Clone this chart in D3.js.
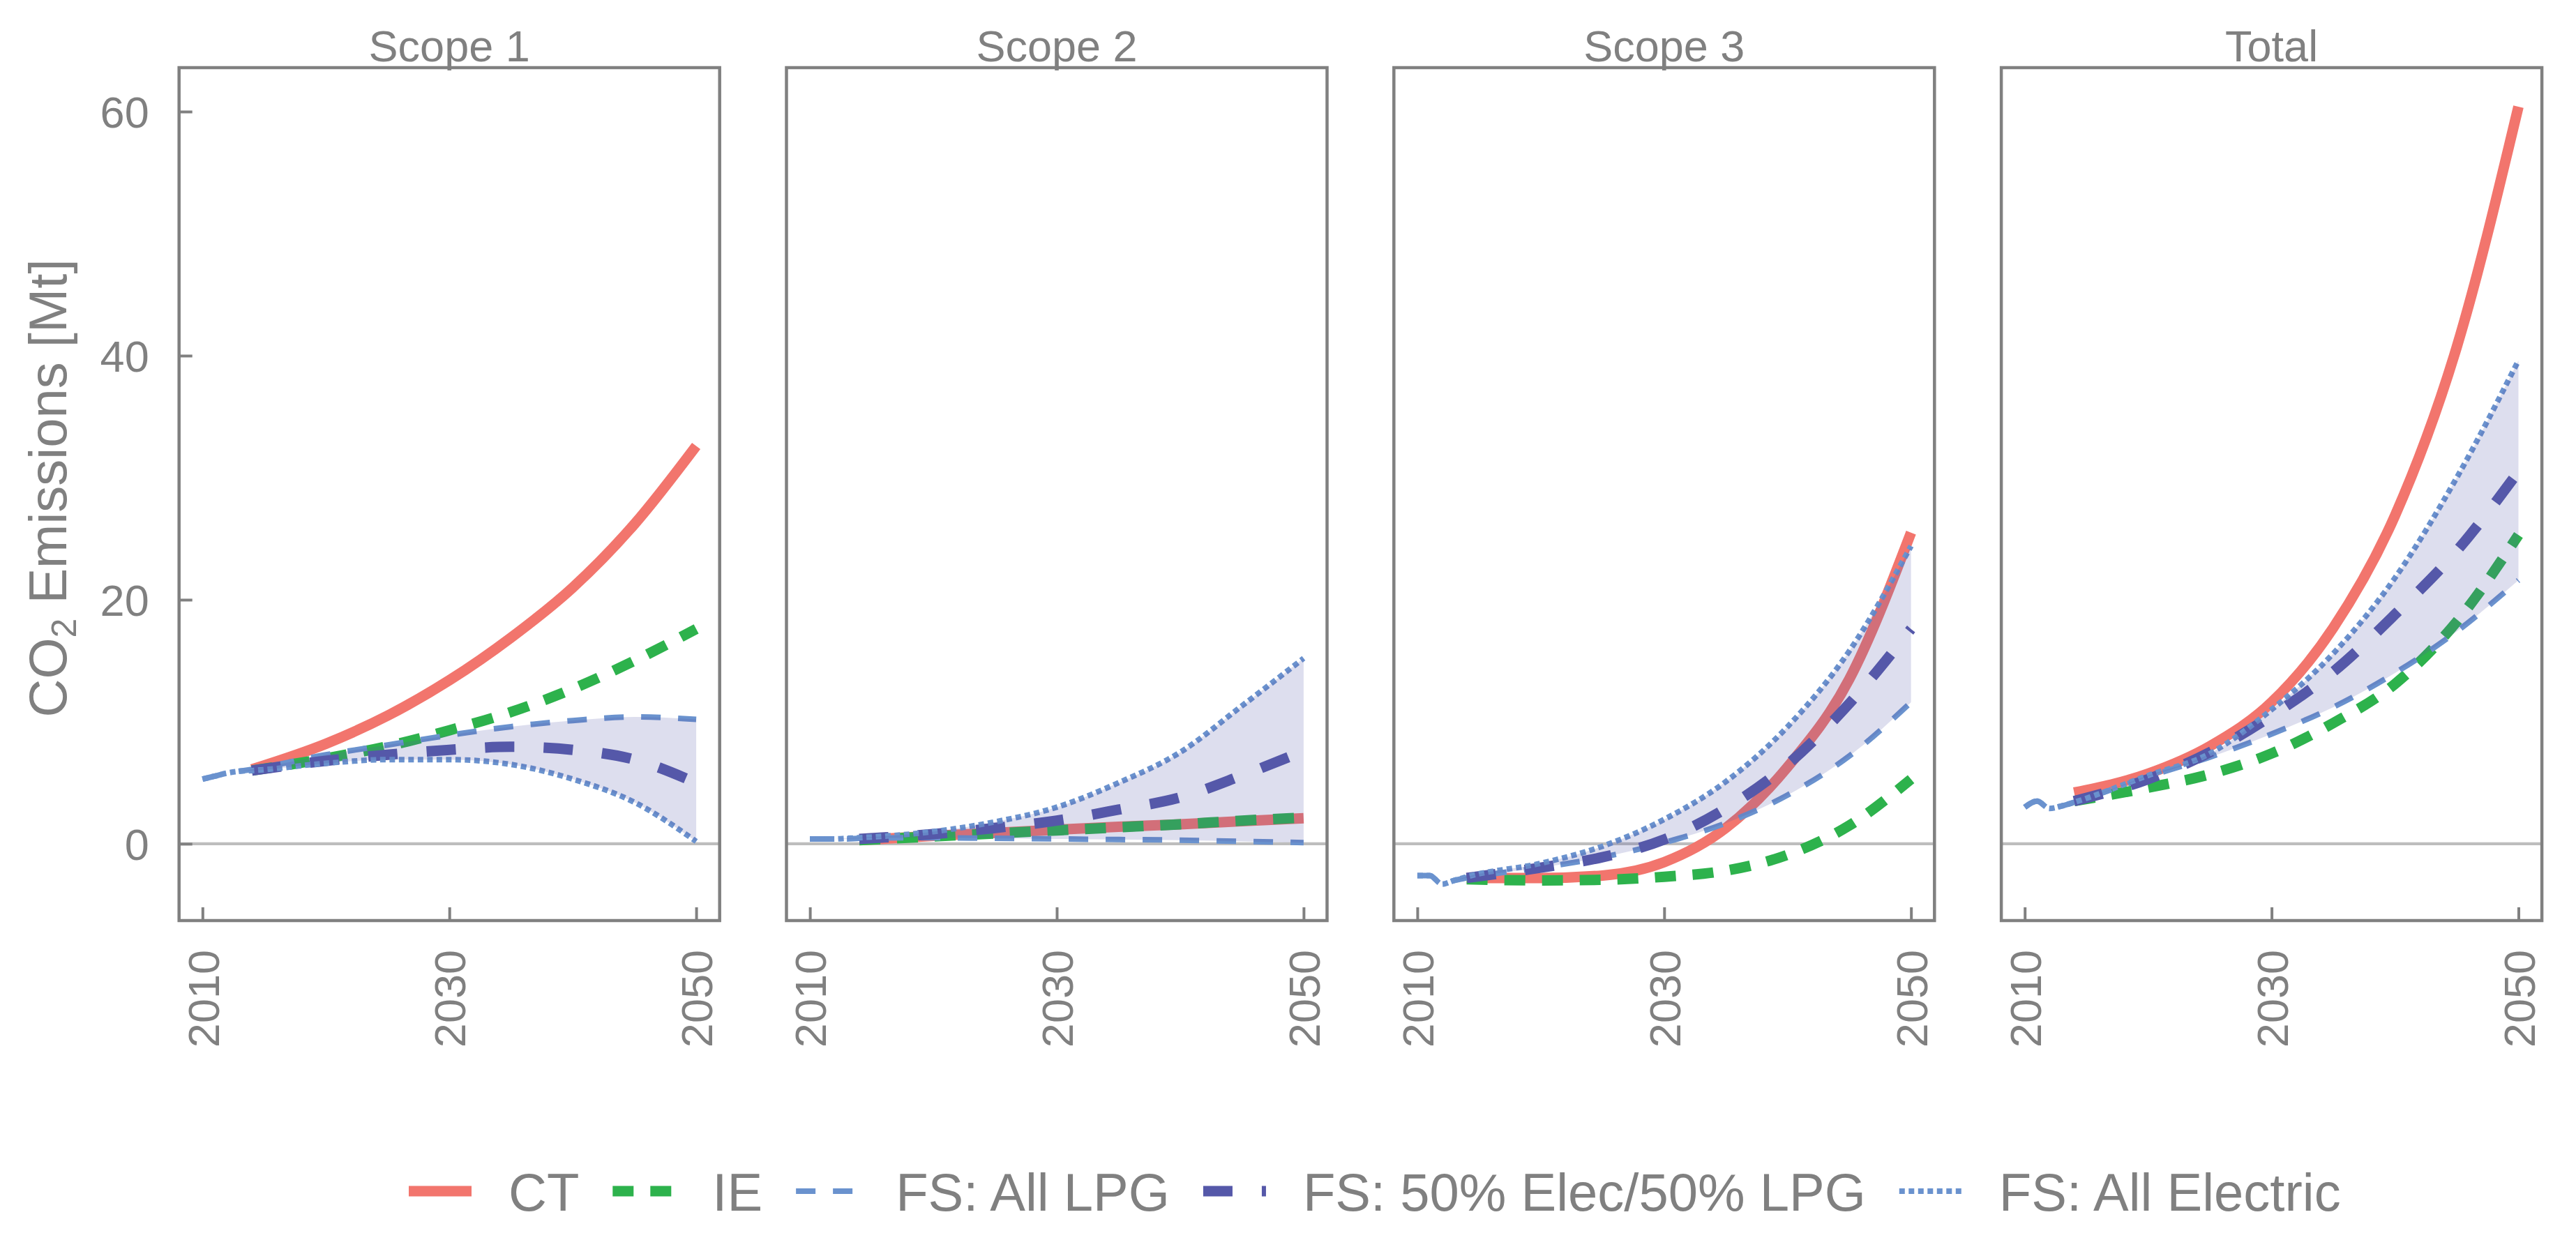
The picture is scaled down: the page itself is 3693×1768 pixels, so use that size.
<!DOCTYPE html>
<html>
<head>
<meta charset="utf-8">
<script src="https://cdn.jsdelivr.net/npm/d3@7"></script>
<style>
  html, body { margin: 0; padding: 0; background: #ffffff; }
  svg { display: block; }
  text { font-family: "Liberation Sans", Arial, Helvetica, sans-serif; fill: #808080; }
</style>
</head>
<body>
<svg id="chart" width="3693" height="1768"></svg>
<script>
// ---------------- DATA ----------------
const panels = ["Scope 1", "Scope 2", "Scope 3", "Total"];
const xTicks = [2010, 2030, 2050];
const yTicks = [0, 20, 40, 60];
const legendLabels = ["CT", "IE", "FS: All LPG", "FS: 50% Elec/50% LPG", "FS: All Electric"];

// years for the scenario lines (CT, IE, 50/50)
const scenYears = [2014, 2020, 2025, 2030, 2035, 2040, 2045, 2050];
// years for the FS: All LPG / All Electric lines (include history)
const fsYears = [2010, 2011, 2012, 2013, 2014, 2020, 2025, 2030, 2035, 2040, 2045, 2050];

// CT  [Scope1, Scope2, Scope3, Total]
const ctValues = [
  [6.1, 8.2, 10.5, 13.4, 16.9, 21.0, 26.2, 32.6],
  [0.3, 0.65, 0.9, 1.15, 1.4, 1.6, 1.85, 2.1],
  [-2.8, -2.8, -2.6, -1.5, 1.3, 6.3, 13.5, 25.5],
  [4.2, 5.75, 8.0, 11.6, 17.7, 26.9, 40.7, 60.4]
];
// IE
const ieValues = [
  [6.0, 7.0, 8.0, 9.3, 10.8, 12.7, 15.0, 17.6],
  [0.3, 0.6, 0.85, 1.1, 1.35, 1.6, 1.9, 2.15],
  [-2.9, -3.0, -2.95, -2.7, -2.2, -0.9, 1.5, 5.3],
  [3.5, 4.6, 5.7, 7.4, 9.9, 13.1, 18.2, 25.3]
];
// FS: 50% Elec / 50% LPG
const midValues = [
  [6.0, 6.8, 7.3, 7.7, 7.95, 7.7, 6.9, 5.0],
  [0.4, 0.8, 1.3, 1.9, 2.8, 3.8, 5.6, 7.6],
  [-2.8, -1.95, -1.1, 0.35, 2.9, 6.5, 11.5, 17.6],
  [3.5, 5.3, 7.5, 10.5, 14.1, 18.8, 24.0, 30.5]
];
// FS: All LPG
const lpgValues = [
  [5.3, 5.55, 5.8, 5.95, 6.1, 7.3, 8.1, 8.9, 9.6, 10.1, 10.4, 10.2],
  [0.4, 0.4, 0.4, 0.4, 0.45, 0.5, 0.45, 0.4, 0.35, 0.3, 0.2, 0.1],
  [-2.6, -2.6, -3.3, -3.0, -2.8, -1.95, -1.1, 0.1, 1.7, 4.0, 7.2, 11.6],
  [3.0, 3.5, 2.9, 3.1, 3.4, 5.5, 7.1, 9.0, 11.2, 14.0, 17.4, 21.6]
];
// FS: All Electric
const elecValues = [
  [5.3, 5.55, 5.8, 5.95, 6.0, 6.6, 6.9, 6.9, 6.5, 5.3, 3.4, 0.2],
  [0.4, 0.4, 0.4, 0.45, 0.5, 1.0, 1.8, 3.0, 5.0, 7.5, 11.3, 15.2],
  [-2.6, -2.6, -3.3, -3.0, -2.7, -1.6, -0.2, 2.0, 5.1, 9.6, 15.8, 24.4],
  [3.0, 3.5, 2.9, 3.1, 3.4, 5.6, 7.4, 11.0, 15.6, 21.8, 30.0, 39.6]
];

// ---------------- STYLE ----------------
const grey = "#808080";
const styles = [
  { color: "#F2756D", width: 15, dash: null },        // CT
  { color: "#2DB24C", width: 15, dash: "30,24" },     // IE
  { color: "#6A92CE", width: 8, dash: "28,25" },      // FS: All LPG
  { color: "#5558A9", width: 15, dash: "42,42" },     // FS: 50/50
  { color: "#6A92CE", width: 8, dash: "8,5.5" }       // FS: All Electric
];
const bandColor = "#5558A9";
const bandOpacity = 0.2;

// ---------------- LAYOUT ----------------
const svg = d3.select("#chart");
const plotTop = 97, plotBottom = 1320;
const panelW = 775, panelStep = 870.8, left0 = 256.7;
const tickFont = 63, labelFont = 76;

const y = d3.scaleLinear().domain([-6.29, 63.6]).range([plotBottom, plotTop]);

panels.forEach((title, i) => {
  const L = left0 + i * panelStep;
  const x = d3.scaleLinear().domain([2008.1, 2051.9]).range([L, L + panelW]);
  const g = svg.append("g");

  // zero line
  g.append("line")
    .attr("x1", L).attr("x2", L + panelW)
    .attr("y1", y(0)).attr("y2", y(0))
    .attr("stroke", "#BDBDBD").attr("stroke-width", 4.3);

  const lineGen = d3.line().x(d => x(d[0])).y(d => y(d[1])).curve(d3.curveMonotoneX);
  const series = [
    scenYears.map((yr, k) => [yr, ctValues[i][k]]),
    scenYears.map((yr, k) => [yr, ieValues[i][k]]),
    fsYears.map((yr, k) => [yr, lpgValues[i][k]]),
    scenYears.map((yr, k) => [yr, midValues[i][k]]),
    fsYears.map((yr, k) => [yr, elecValues[i][k]])
  ];
  series.forEach((s, k) => {
    const st = styles[k];
    g.append("path")
      .attr("d", lineGen(s))
      .attr("fill", "none")
      .attr("stroke", st.color)
      .attr("stroke-width", st.width)
      .attr("stroke-linecap", "butt")
      .attr("stroke-linejoin", "round")
      .attr("stroke-dasharray", st.dash);
  });

  // band between All LPG and All Electric
  const areaGen = d3.area()
    .x((d, k) => x(fsYears[k]))
    .y0((d, k) => y(lpgValues[i][k]))
    .y1((d, k) => y(elecValues[i][k]))
    .curve(d3.curveMonotoneX);
  g.append("path")
    .attr("d", areaGen(fsYears))
    .attr("fill", bandColor)
    .attr("fill-opacity", bandOpacity);

  // frame
  g.append("rect")
    .attr("x", L).attr("y", plotTop)
    .attr("width", panelW).attr("height", plotBottom - plotTop)
    .attr("fill", "none").attr("stroke", grey).attr("stroke-width", 4.5);

  // x axis
  const xa = g.append("g").attr("transform", `translate(0,${plotBottom})`)
    .call(d3.axisBottom(x).tickValues(xTicks).tickFormat(d3.format("d")).tickSizeInner(-19).tickSizeOuter(0));
  xa.select(".domain").remove();
  xa.selectAll(".tick line").attr("stroke", grey).attr("stroke-width", 4);
  xa.selectAll(".tick text")
    .attr("transform", "rotate(-90)")
    .attr("x", -42).attr("y", 0).attr("dy", "0.36em")
    .attr("text-anchor", "end")
    .attr("fill", grey)
    .style("font-size", tickFont + "px")
    .style("font-family", "'Liberation Sans', Arial, sans-serif");

  // y axis only on first panel
  if (i === 0) {
    const ya = g.append("g").attr("transform", `translate(${L},0)`)
      .call(d3.axisLeft(y).tickValues(yTicks).tickSizeInner(-19).tickSizeOuter(0).tickPadding(43));
    ya.select(".domain").remove();
    ya.selectAll(".tick line").attr("stroke", grey).attr("stroke-width", 4);
    ya.selectAll(".tick text")
      .attr("dy", "0.36em")
      .attr("fill", grey)
      .style("font-size", tickFont + "px")
      .style("font-family", "'Liberation Sans', Arial, sans-serif");
  }

  // title
  g.append("text")
    .attr("x", L + panelW / 2).attr("y", 88)
    .attr("text-anchor", "middle")
    .style("font-size", tickFont + "px")
    .text(title);
});

// y-axis label
const yl = svg.append("text")
  .attr("transform", "translate(95,700) rotate(-90)")
  .attr("text-anchor", "middle")
  .style("font-size", labelFont + "px");
yl.append("tspan").text("CO");
yl.append("tspan").attr("dy", 14).style("font-size", "50px").text("2");
yl.append("tspan").attr("dy", -14).text(" Emissions [Mt]");

// legend
const legY = 1708;
let lx = 586;
legendLabels.forEach((lab, k) => {
  const st = styles[k];
  svg.append("line")
    .attr("x1", lx).attr("x2", lx + 90)
    .attr("y1", legY).attr("y2", legY)
    .attr("stroke", st.color).attr("stroke-width", st.width)
    .attr("stroke-dasharray", st.dash);
  const t = svg.append("text")
    .attr("x", lx + 143).attr("y", 1736)
    .style("font-size", labelFont + "px")
    .text(lab);
  lx = lx + 143 + t.node().getComputedTextLength() + 48;
});
</script>
</body>
</html>
